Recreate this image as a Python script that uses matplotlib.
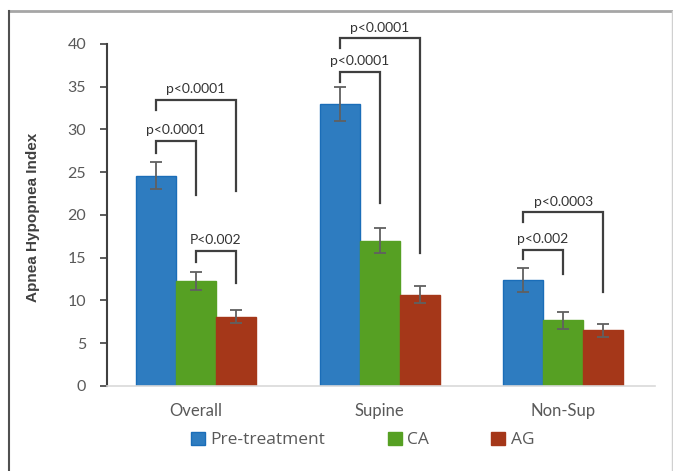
import matplotlib
matplotlib.use("Agg")
import matplotlib.pyplot as plt
import numpy as np
from matplotlib.lines import Line2D
from matplotlib.patches import Patch

plt.rcParams['font.family'] = ['Lato', 'DejaVu Sans']

categories = ["Overall", "Supine", "Non-Sup"]
series_names = ["Pre-treatment", "CA", "AG"]
pre_treatment = [24.6, 33.0, 12.4]
ca = [12.3, 17.0, 7.7]
ag = [8.1, 10.7, 6.5]
pre_err = [1.6, 2.0, 1.4]
ca_err = [1.05, 1.5, 1.0]
ag_err = [0.75, 1.0, 0.8]
yticks = [0, 5, 10, 15, 20, 25, 30, 35, 40]

# significance brackets: (category, bar_from, bar_to, top, left_end, right_end, label)
brackets = [
    (0, 0, 1, 28.65, 27.3, 22.3, "p<0.0001"),
    (0, 0, 2, 33.45, 32.3, 22.8, "p<0.0001"),
    (0, 1, 2, 15.8, 14.5, 12.0, "P<0.002"),
    (1, 0, 1, 36.75, 35.6, 21.4, "p<0.0001"),
    (1, 0, 2, 40.65, 39.5, 15.5, "p<0.0001"),
    (2, 0, 1, 15.95, 14.8, 13.05, "p<0.002"),
    (2, 0, 2, 20.3, 19.2, 10.95, "p<0.0003"),
]

colors = ['#2E7CC0', '#56A023', '#A53719']
edges = ['#1A6DB8', '#56A023', '#A53719']

fig = plt.figure(figsize=(6.73, 4.71), dpi=100)
ax = fig.add_axes([0.159, 0.1805, 0.814, 0.7261])

x = np.arange(len(categories))
w = 0.218
vals = [pre_treatment, ca, ag]
errs = [pre_err, ca_err, ag_err]
for i in range(3):
    ax.bar(x + (i - 1) * w, vals[i], w, color=colors[i], edgecolor=edges[i],
           linewidth=1.0, label=series_names[i], zorder=2)
    ax.errorbar(x + (i - 1) * w, vals[i], yerr=errs[i], fmt='none',
                ecolor='#606060', elinewidth=1.3, capsize=4, capthick=1.3, zorder=3)

for cat, b0, b1, top, lend, rend, lab in brackets:
    x0 = cat + (b0 - 1) * w
    x1 = cat + (b1 - 1) * w
    ax.plot([x0, x0, x1, x1], [lend, top, top, rend], color='#3F3F3F',
            lw=1.6, clip_on=False, zorder=4, solid_joinstyle='miter')
    ax.text((x0 + x1) / 2, top + 0.55, lab, ha='center', va='bottom',
            fontsize=10, color='#333333', clip_on=False)

ax.set_xlim(-0.485, 2.5)
ax.set_ylim(0, 40)
ax.set_yticks(yticks)
ax.set_xticks(x)
ax.set_xticklabels(categories)
ax.tick_params(axis='x', length=0, pad=12, labelsize=12, labelcolor='#595959')
ax.tick_params(axis='y', length=5, width=1.2, direction='out', color='#404040',
               pad=10, labelsize=11.5, labelcolor='#595959')
for s in ['top', 'right']:
    ax.spines[s].set_visible(False)
ax.spines['left'].set_color('#404040')
ax.spines['left'].set_linewidth(1.5)
ax.spines['bottom'].set_color('#D9D9D9')
ax.spines['bottom'].set_linewidth(1.2)
ax.set_ylabel("Apnea Hypopnea Index", fontsize=11, fontweight='bold',
              color='#404040', family=['Liberation Sans', 'DejaVu Sans'])
ax.yaxis.set_label_coords(-0.122, 0.493)

handles = [Patch(facecolor=colors[i], edgecolor=edges[i]) for i in range(3)]
fig.legend(handles, series_names, loc='center', bbox_to_anchor=(0.539, 0.066),
           ncol=3, frameon=False, handlelength=0.8, handleheight=0.8,
           handletextpad=0.3, columnspacing=3.6, labelcolor='#595959',
           prop={'family': ['Open Sans', 'DejaVu Sans'], 'size': 12.5})

# outer frame
fig.add_artist(Line2D([9/673, 672/673], [1-11/471, 1-11/471], transform=fig.transFigure,
                      color='#A6A6A6', lw=2))
fig.add_artist(Line2D([9/673, 9/673], [0, 1-11/471], transform=fig.transFigure,
                      color='#505050', lw=1.5))
fig.add_artist(Line2D([672/673, 672/673], [0, 1-11/471], transform=fig.transFigure,
                      color='#D0D0D0', lw=1))

fig.savefig("out.png", dpi=100)
